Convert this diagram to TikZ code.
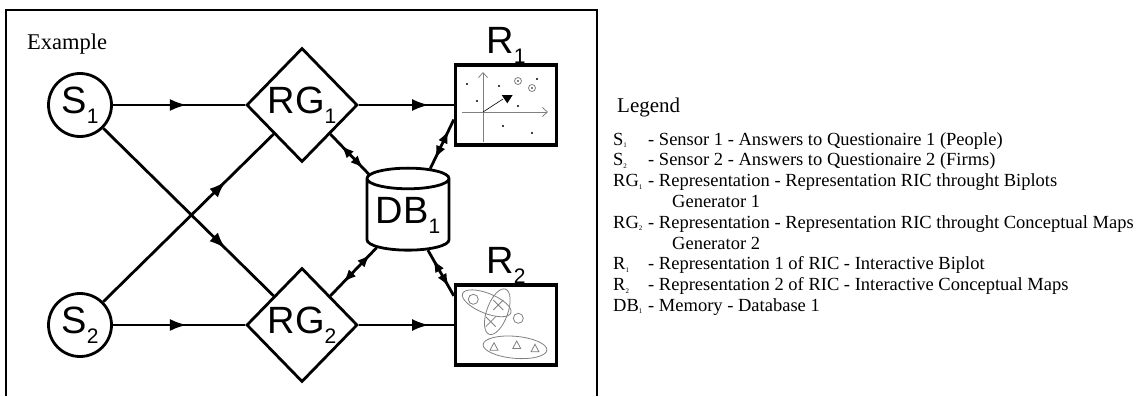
\documentclass[tikz,border=0pt]{standalone}
\usepackage{fontspec}
\setmainfont{Liberation Serif}
\newfontfamily\labelfont{Liberation Sans}
\usetikzlibrary{arrows.meta, positioning, calc, shapes.geometric, decorations.markings}
\newcommand{\nsub}[1]{\raisebox{-10pt}{\fontsize{21}{21}\selectfont #1}}
\newcommand{\lsub}[1]{\raisebox{-2.5pt}{\fontsize{7}{7}\selectfont #1}}
\tikzset{
    flowtip/.tip={Latex[length=17pt,width=12pt]},
    duplextip/.tip={Latex[length=13pt,width=10pt]},
    srcnode/.style={circle, draw, line width=2.8pt, minimum size=63pt, inner sep=0pt, font=\labelfont\fontsize{38}{38}\selectfont},
    gennode/.style={diamond, draw, line width=2.8pt, minimum width=111pt, minimum height=114pt, inner sep=0pt, font=\labelfont\fontsize{38}{38}\selectfont},
    dbnode/.style={cylinder, shape border rotate=90, aspect=0.32, draw, line width=2.8pt, minimum width=82pt, minimum height=82pt, inner sep=0pt, font=\labelfont\fontsize{38}{38}\selectfont},
    repbox/.style={rectangle, draw, line width=3.4pt, minimum width=101pt, minimum height=80pt, inner sep=0pt},
    replabel/.style={inner sep=0pt, font=\labelfont\fontsize{38}{38}\selectfont},
    flow/.style={line width=2.8pt},
    midarrow/.style={flow, postaction={decorate}, decoration={markings, mark=at position #1 with {\arrow{flowtip}}}},
    twoway/.style 2 args={flow, postaction={decorate}, decoration={markings, mark=at position #1 with {\arrowreversed{duplextip}}, mark=at position #2 with {\arrow{duplextip}}}},
    legendtxt/.style={anchor=base west, inner sep=0pt, font=\fontsize{18.5}{20}\selectfont}
}

\begin{document}
\begin{tikzpicture}[x=1pt, y=-1pt]
    \useasboundingbox (0,0) rectangle (1137,396);
    % Frame
    \draw[line width=1.8pt] (6,396) -- (6,10) -- (597,10) -- (597,396);
    \node[anchor=base west, inner sep=0pt, font=\fontsize{22.5}{22.5}\selectfont] (example) at (27,50) {Example};

    \node[srcnode] (S1) at (80,105) {S\nsub{1}};
    \node[srcnode] (S2) at (80,325) {S\nsub{2}};
    \node[gennode] (RG1) at (302,105) {RG\nsub{1}};
    \node[gennode] (RG2) at (302,325) {RG\nsub{2}};
    \node[dbnode] (DB) at (408,215) {DB\nsub{1}};
    \node[repbox] (R1) at (506,105) {};
    \node[repbox] (R2) at (506,325) {};
    \node[replabel, above=0pt of R1] (R1lbl) {R\nsub{1}};
    \node[replabel, above=0pt of R2] (R2lbl) {R\nsub{2}};

    % Flows
    \draw[midarrow=0.56] (S1) -- (RG1);
    \draw[midarrow=0.74] (RG1) -- (R1);
    \draw[midarrow=0.56] (S2) -- (RG2);
    \draw[midarrow=0.74] (RG2) -- (R2);
    \draw[midarrow=0.72] (S1.south east) -- (RG2.north west);
    \draw[midarrow=0.72] (S2.north east) -- (RG1.south west);

    % Memory links
    \coordinate (R1in) at ($(R1.west)!0.35!(R1.south west)$);
    \coordinate (R2in) at ($(R2.west)!0.7!(R2.north west)$);
    \draw[twoway={0.28}{0.86}] (RG1.south east) -- (DB);
    \draw[twoway={0.28}{0.86}] (RG2.north east) -- (DB);
    \draw[twoway={0.2}{0.78}] (DB) -- (R1in);
    \draw[twoway={0.2}{0.8}] (DB) -- (R2in);

    % Biplot sketch
    \begin{scope}[shift={(R1.center)}, gray, line width=0.8pt]
        \draw[-{Straight Barb[length=5pt,width=9pt]}] (-44,7) -- (42,7);
        \draw[-{Straight Barb[length=5pt,width=9pt]}] (-23,37) -- (-23,-33);
        \foreach \px/\py in {-39/-21, -7/-19, -29/-4, 12/1, 31/-26, -3/21, 26/28}
            \fill[black] (\px,\py) circle (1.2pt);
        \foreach \px/\py in {12/-24, 26/-17} {
            \draw (\px,\py) circle (3.5pt);
            \fill[black] (\px,\py) circle (0.9pt);
        }
        \draw[black, line width=0.6pt] (-23,7) -- (-3,-6);
        \fill[black] (-4.3,-10) -- (6.7,-10) -- (1.3,-1.7) -- cycle;
    \end{scope}

    % Conceptual map sketch
    \begin{scope}[shift={(R2.center)}, gray, line width=0.8pt]
        \draw (-32.7,-25.7) circle (5pt);
        \draw (12.3,-6.7) circle (5pt);
        \draw[rotate around={-22:(-19.3,-21.7)}] (-19.3,-21.7) ellipse [x radius=26pt, y radius=10pt];
        \draw[rotate around={-20:(-8.7,-13.3)}] (-8.7,-13.3) ellipse [x radius=10.5pt, y radius=24pt];
        \draw[rotate around={-5:(9,22.3)}] (9,22.3) ellipse [x radius=32pt, y radius=11pt];
        \foreach \px/\py in {-7.7/-20, -15.3/-3.3}
            \draw (\px-5,\py-5) -- (\px+5,\py+5) (\px-5,\py+5) -- (\px+5,\py-5);
        \foreach \px/\py in {-12/21.7, 10.7/20, 29/23.3}
            \draw (\px-4,\py+3.5) -- (\px+4,\py+3.5) -- (\px,\py-4) -- cycle;
    \end{scope}

    % Legend
    \node[anchor=base west, inner sep=0pt, font=\fontsize{21}{21}\selectfont] (legend) at (617,112) {Legend};
    \node[legendtxt] (lgS1) at (613,145) {\makebox[35pt][l]{S\lsub{1}}- Sensor 1 - Answers to Questionaire 1 (People)};
    \node[legendtxt] (lgS2) at (613,165.8) {\makebox[35pt][l]{S\lsub{2}}- Sensor 2 - Answers to Questionaire 2 (Firms)};
    \node[legendtxt] (lgRG1) at (613,186.6) {\makebox[35pt][l]{RG\lsub{1}}- Representation - Representation RIC throught Biplots};
    \node[legendtxt] (lgRG1b) at (672,207.4) {Generator 1};
    \node[legendtxt] (lgRG2) at (613,228.2) {\makebox[35pt][l]{RG\lsub{2}}- Representation - Representation RIC throught Conceptual Maps};
    \node[legendtxt] (lgRG2b) at (672,249) {Generator 2};
    \node[legendtxt] (lgR1) at (613,269.8) {\makebox[35pt][l]{R\lsub{1}}- Representation 1 of RIC - Interactive Biplot};
    \node[legendtxt] (lgR2) at (613,290.6) {\makebox[35pt][l]{R\lsub{2}}- Representation 2 of RIC - Interactive Conceptual Maps};
    \node[legendtxt] (lgDB1) at (613,311.4) {\makebox[35pt][l]{DB\lsub{1}}- Memory - Database 1};
\end{tikzpicture}
\end{document}
